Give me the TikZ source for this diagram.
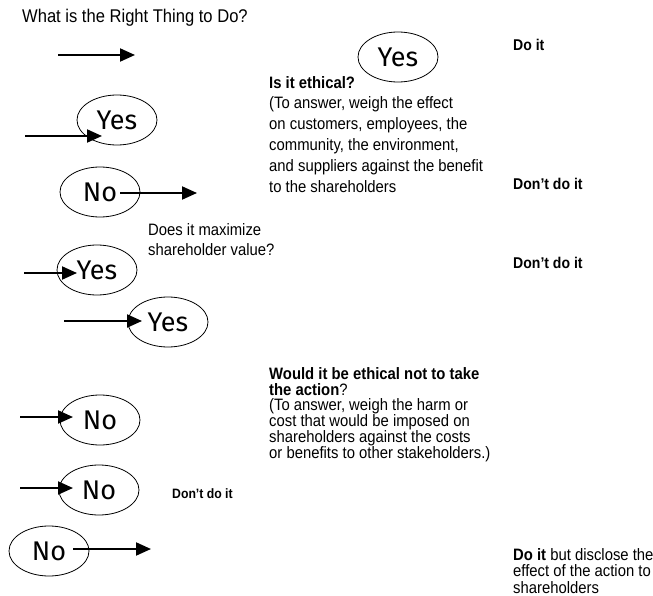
\documentclass[tikz,border=0pt]{standalone}
\usepackage{fontspec}
\setmainfont{Liberation Sans}[FakeStretch=0.9]
\newfontfamily\comicfont{Fira Sans}
\usetikzlibrary{shapes,arrows.meta,positioning,calc}

\begin{document}
\begin{tikzpicture}[x=1pt, y=-1pt,
  answer/.style={draw, ellipse, line width=0.8pt, minimum width=80pt, minimum height=50pt, inner sep=0pt, font=\comicfont\fontsize{27}{27}\selectfont},
  arr/.style={line width=2pt, -{Triangle[length=15pt, width=13pt]}},
  verdict/.style={anchor=west, inner sep=0pt, font=\bfseries\fontsize{15.6}{16}\selectfont},
  question/.style={anchor=north west, inner sep=0pt, align=left}]
\useasboundingbox (0,0) rectangle (653,596);

% Title
\node[anchor=west, inner sep=0pt, font=\fontsize{18.4}{20}\selectfont] (title) at (22,18) {What is the Right Thing to Do?};

% Answers
\node[answer] (yesA) at (398,57) {Yes};
\node[answer] (yesB) at (117,120) {Yes};
\node[answer] (noA) at (100,192) {No};
\node[answer] (yesC) at (97,270) {Yes};
\node[answer] (yesD) at (168,322) {Yes};
\node[answer] (noB) at (100,420) {No};
\node[answer] (noC) at (99,490) {No};
\node[answer] (noD) at (49,551) {No};

% Questions
\node[question, font=\fontsize{16.5}{20.8}\selectfont] (ethical) at (269,76) {\textbf{Is it ethical?}\\(To answer, weigh the effect\\on customers, employees, the\\community, the environment,\\and suppliers against the benefit\\to the shareholders};
\node[question, font=\fontsize{16.5}{20.5}\selectfont] (maximize) at (148,223) {Does it maximize\\shareholder value?};
\node[question, font=\fontsize{16.5}{15.9}\selectfont] (notake) at (269,367) {\textbf{Would it be ethical not to take}\\\textbf{the action}?\\(To answer, weigh the harm or\\cost that would be imposed on\\shareholders against the costs\\or benefits to other stakeholders.)};

% Verdicts
\node[verdict] (doA) at (513,45) {Do it};
\node[verdict] (dontA) at (513,184) {Don't do it};
\node[verdict] (dontB) at (513,263) {Don't do it};
\node[verdict, font=\bfseries\fontsize{13.6}{14}\selectfont] (dontC) at (172,494) {Don't do it};
\node[question, font=\fontsize{16.5}{16.5}\selectfont] (disclose) at (513,548) {\textbf{Do it} but disclose the\\effect of the action to\\shareholders};

% Arrows
\coordinate (in1) at (58,55);
\coordinate (out1) at (135,55);
\coordinate (in2) at (25,136);
\coordinate (out3) at (197,193);
\coordinate (in4) at (24,273);
\coordinate (in5) at (64,321);
\coordinate (in6) at (20,417);
\coordinate (in7) at (20,488);
\coordinate (out8) at (151,549);
\draw[arr] (in1) -- (out1);
\draw[arr] (in2) -- ($(yesB)+(-15,16)$);
\draw[arr] ($(noA)+(20,1)$) -- (out3);
\draw[arr] (in4) -- ($(yesC)+(-20,3)$);
\draw[arr] (in5) -- ($(yesD)+(-26,-1)$);
\draw[arr] (in6) -- ($(noB)+(-27,-3)$);
\draw[arr] (in7) -- ($(noC)+(-26,-2)$);
\draw[arr] ($(noD)+(24,-2)$) -- (out8);
\end{tikzpicture}
\end{document}
